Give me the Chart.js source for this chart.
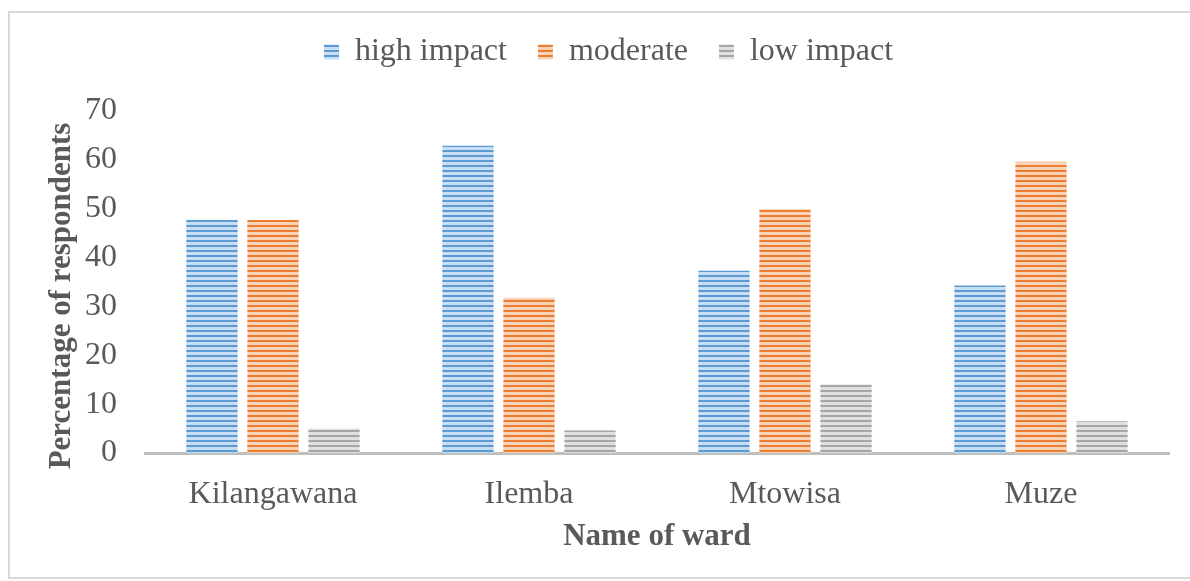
<!DOCTYPE html>
<html>
<head>
<meta charset="utf-8">
<script src="https://cdn.jsdelivr.net/npm/chart.js@4.4.1/dist/chart.umd.min.js"></script>
<style>
  html, body { margin: 0; padding: 0; background: #fff; }
  #wrap { position: relative; width: 1190px; height: 581px; }
</style>
</head>
<body>
<div id="wrap"><canvas id="myChart" width="1190" height="581"></canvas></div>
<script>
const wards = ["Kilangawana", "Ilemba", "Mtowisa", "Muze"];
const highImpact = [47.7, 62.9, 37.3, 34.3];
const moderate = [47.7, 31.8, 49.9, 59.6];
const lowImpact = [5.0, 4.6, 14.0, 6.5];
const yTicks = [0, 10, 20, 30, 40, 50, 60, 70];

const FONT = "'Liberation Serif', 'Times New Roman', serif";
const TEXT = "#595959";

// horizontal stripe fill like the original office chart
function stripes(dark, light) {
  const c = document.createElement("canvas");
  c.width = 5;
  c.height = 5;
  const g = c.getContext("2d");
  g.fillStyle = light;
  g.fillRect(0, 0, 5, 5);
  g.fillStyle = dark;
  g.fillRect(0, 0, 5, 2);
  return g.createPattern(c, "repeat");
}

const frame = {
  id: "frame",
  afterLayout(chart) {
    // legend sits a bit right of the canvas centre in the original
    chart.legend.left += 24;
    chart.legend.right += 24;
  },
  beforeDraw(chart) {
    const ctx = chart.ctx;
    ctx.save();
    ctx.strokeStyle = "#D9D9D9";
    ctx.lineWidth = 2;
    ctx.strokeRect(9, 12, 1200, 566);
    ctx.restore();
  },
  afterDraw(chart) {
    // y axis title
    const ctx = chart.ctx;
    ctx.save();
    ctx.translate(62, 296);
    ctx.rotate(-Math.PI / 2);
    ctx.font = "bold 31px " + FONT;
    ctx.fillStyle = TEXT;
    ctx.textAlign = "center";
    ctx.textBaseline = "middle";
    ctx.fillText("Percentage of respondents", 0, 0);
    ctx.restore();
  }
};

const ctx = document.getElementById("myChart").getContext("2d");

new Chart(ctx, {
  type: "bar",
  data: {
    labels: wards,
    datasets: [
      { label: "high impact", data: highImpact, backgroundColor: stripes("#5B9BD5", "#C9DEF2") },
      { label: "moderate", data: moderate, backgroundColor: stripes("#ED7D31", "#F9D3B8") },
      { label: "low impact", data: lowImpact, backgroundColor: stripes("#A5A5A5", "#E0E0E0") }
    ]
  },
  options: {
    responsive: false,
    animation: false,
    categoryPercentage: 0.715,
    barPercentage: 0.84,
    layout: { padding: { left: 0, right: 21, top: 5, bottom: 0 } },
    plugins: {
      tooltip: { enabled: false },
      legend: {
        position: "top",
        labels: {
          color: TEXT,
          font: { family: FONT, size: 32 },
          boxWidth: 15,
          boxHeight: 15,
          padding: 31
        }
      }
    },
    scales: {
      x: {
        grid: { display: false, drawTicks: false },
        border: { display: true, color: "#BFBFBF", width: 3 },
        ticks: { color: TEXT, font: { family: FONT, size: 32 }, padding: 22 },
        title: {
          display: true,
          text: "Name of ward",
          color: TEXT,
          font: { family: FONT, size: 31, weight: "bold" },
          padding: { top: 0, bottom: 25 }
        },
        afterFit(scale) { scale.height = 128; }
      },
      // empty spacer between legend and plot
      spacer: {
        type: "category",
        position: "top",
        display: true,
        grid: { display: false, drawTicks: false },
        border: { display: false },
        ticks: { display: false },
        afterFit(scale) { scale.height = 33; }
      },
      y: {
        min: 0,
        max: 70,
        afterBuildTicks(scale) { scale.ticks = yTicks.map(v => ({ value: v })); },
        grid: { display: false, drawTicks: false },
        border: { display: false },
        ticks: { color: TEXT, font: { family: FONT, size: 32 }, padding: 28 },
        afterFit(scale) { scale.width = 145; }
      }
    }
  },
  plugins: [frame]
});
</script>
</body>
</html>
